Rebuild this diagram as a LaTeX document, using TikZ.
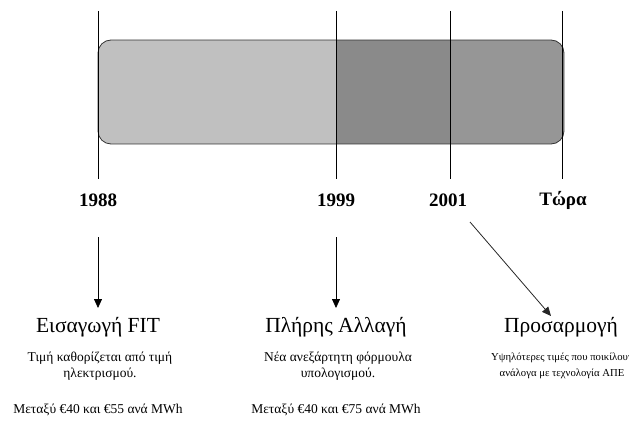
\documentclass[tikz,border=0pt]{standalone}
\usepackage{fontspec}
\setmainfont{Liberation Serif}
\usetikzlibrary{arrows.meta}
\definecolor{segA}{HTML}{C0C0C0}
\definecolor{segB}{HTML}{8A8A8A}
\definecolor{segC}{HTML}{969696}
\tikzset{
  yearlbl/.style={font=\fontsize{19}{22}\selectfont\bfseries, anchor=center, inner sep=0pt},
  titlelbl/.style={font=\fontsize{21.5}{24}\selectfont, anchor=center, inner sep=0pt},
  desclbl/.style={font=\fontsize{13.5}{16}\selectfont, anchor=center, inner sep=0pt, align=center},
  smalldesc/.style={font=\fontsize{10.7}{16}\selectfont, anchor=center, inner sep=0pt, align=center},
  tick/.style={line width=0.8pt, black},
  pointer/.style={line width=0.8pt, black, -{Triangle[length=9pt, width=8pt]}},
}
\begin{document}
\begin{tikzpicture}[x=1pt, y=-1pt]
\useasboundingbox (0,0) rectangle (629,425);
% bar
\begin{scope}
  \clip[rounded corners=13pt] (98,40) rectangle (564,144);
  \fill[segA] (98,40) rectangle (336,144);
  \fill[segB] (336,40) rectangle (450,144);
  \fill[segC] (450,40) rectangle (564,144);
\end{scope}
\draw[rounded corners=13pt, line width=0.8pt, black!80] (98,40) rectangle (564,144);
% ticks
\coordinate (t1a) at (98,11);  \coordinate (t1b) at (98,179);
\coordinate (t2a) at (336,11); \coordinate (t2b) at (336,179);
\coordinate (t3a) at (450,11); \coordinate (t3b) at (450,179);
\coordinate (t4a) at (562,11); \coordinate (t4b) at (562,179);
\draw[tick] (t1a) -- (t1b);
\draw[tick] (t2a) -- (t2b);
\draw[tick] (t3a) -- (t3b);
\draw[tick] (t4a) -- (t4b);
% years
\node[yearlbl] (y1) at (98,200) {1988};
\node[yearlbl] (y2) at (336,200) {1999};
\node[yearlbl] (y3) at (448,200) {2001};
\node[yearlbl] (y4) at (563,200) {Τώρα};
% arrows
\coordinate (a1s) at (98,237);  \coordinate (a1e) at (98,308);
\coordinate (a2s) at (336,237); \coordinate (a2e) at (336,308);
\coordinate (a3s) at (470,222); \coordinate (a3e) at (551,316);
\draw[pointer] (a1s) -- (a1e);
\draw[pointer] (a2s) -- (a2e);
\draw[pointer, black!85] (a3s) -- (a3e);
% titles
\node[titlelbl] (h1) at (98,327) {Εισαγωγή FIT};
\node[titlelbl] (h2) at (336,327) {Πλήρης Αλλαγή};
\node[titlelbl] (h3) at (561,327) {Προσαρμογή};
% descriptions
\node[desclbl] (d1) at (100,366) {Τιμή καθορίζεται από τιμή\\ηλεκτρισμού.};
\node[desclbl] (d2) at (338,366) {Νέα ανεξάρτητη φόρμουλα\\υπολογισμού.};
\node[smalldesc] (d3) at (562,366) {Υψηλότερες τιμές που ποικίλουν\\ανάλογα με τεχνολογία ΑΠΕ};
\node[desclbl] (p1) at (98,410) {Μεταξύ €40 και €55 ανά MWh};
\node[desclbl] (p2) at (336,410) {Μεταξύ €40 και €75 ανά MWh};
\end{tikzpicture}
\end{document}
